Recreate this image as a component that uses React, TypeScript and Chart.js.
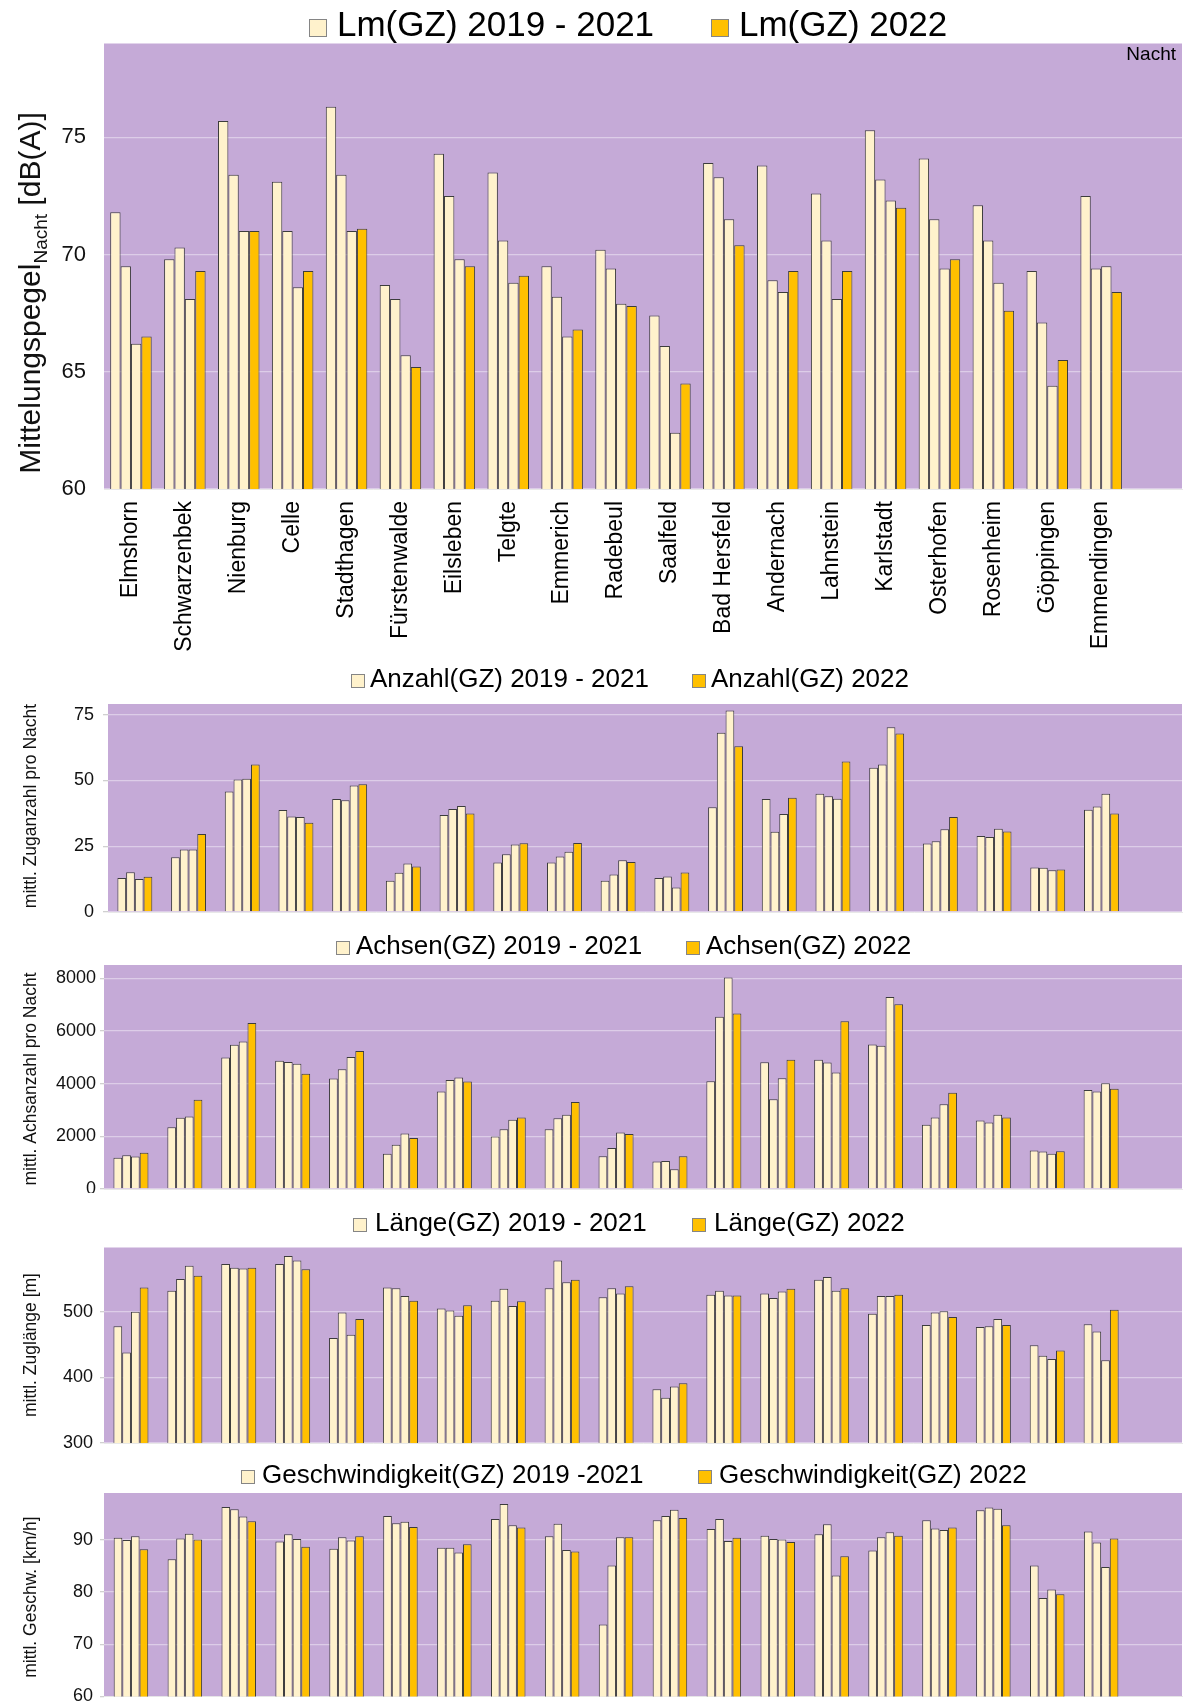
import React, { useEffect, useRef } from 'react';
import { Chart, registerables } from 'chart.js';

Chart.register(...registerables);

// ---------------- data ----------------
const STATIONS = ['Elmshorn', 'Schwarzenbek', 'Nienburg', 'Celle', 'Stadthagen', 'Fürstenwalde', 'Eilsleben', 'Telgte', 'Emmerich', 'Radebeul', 'Saalfeld', 'Bad Hersfeld', 'Andernach', 'Lahnstein', 'Karlstadt', 'Osterhofen', 'Rosenheim', 'Göppingen', 'Emmendingen'];
const CATEGORIES = [...STATIONS, ''];

const LM_2019 = [71.8, 69.8, 75.7, 73.1, 76.3, 68.7, 74.3, 73.5, 69.5, 70.2, 67.4, 73.9, 73.8, 72.6, 75.3, 74.1, 72.1, 69.3, 72.5];
const LM_2020 = [69.5, 70.3, 73.4, 71.0, 73.4, 68.1, 72.5, 70.6, 68.2, 69.4, 66.1, 73.3, 68.9, 70.6, 73.2, 71.5, 70.6, 67.1, 69.4];
const LM_2021 = [66.2, 68.1, 71.0, 68.6, 71.0, 65.7, 69.8, 68.8, 66.5, 67.9, 62.4, 71.5, 68.4, 68.1, 72.3, 69.4, 68.8, 64.4, 69.5];
const LM_2022 = [66.5, 69.3, 71.0, 69.3, 71.1, 65.2, 69.5, 69.1, 66.8, 67.8, 64.5, 70.4, 69.3, 69.3, 72.0, 69.8, 67.6, 65.5, 68.4];

const ANZ_2019 = [12.9, 20.8, 45.8, 38.7, 42.9, 11.9, 36.8, 18.8, 18.8, 11.9, 12.9, 39.8, 42.9, 44.9, 54.8, 26.0, 28.9, 16.9, 38.8];
const ANZ_2020 = [15.1, 23.7, 50.3, 36.3, 42.4, 14.9, 39.1, 21.9, 21.1, 14.2, 13.5, 68.1, 30.5, 44.0, 56.0, 26.9, 28.5, 16.8, 40.1];
const ANZ_2021 = [12.5, 23.7, 50.6, 36.1, 48.0, 18.4, 40.3, 25.6, 22.9, 19.7, 9.3, 76.5, 37.2, 43.0, 70.2, 31.4, 31.6, 15.9, 44.9];
const ANZ_2022 = [13.4, 29.6, 56.0, 33.9, 48.5, 17.3, 37.4, 26.1, 26.2, 19.0, 15.0, 63.0, 43.4, 57.2, 67.8, 36.1, 30.6, 16.1, 37.4];

const ACH_2019 = [1190, 2340, 4990, 4870, 4190, 1340, 3700, 1990, 2270, 1240, 1040, 4090, 4810, 4900, 5480, 2440, 2600, 1460, 3760];
const ACH_2020 = [1280, 2700, 5470, 4820, 4540, 1680, 4140, 2270, 2680, 1560, 1060, 6540, 3410, 4800, 5440, 2710, 2520, 1420, 3700];
const ACH_2021 = [1230, 2750, 5600, 4750, 5010, 2110, 4230, 2630, 2820, 2140, 750, 8030, 4200, 4420, 7290, 3220, 2820, 1340, 4010];
const ACH_2022 = [1380, 3390, 6300, 4370, 5240, 1940, 4080, 2710, 3300, 2090, 1240, 6660, 4900, 6370, 7010, 3650, 2710, 1430, 3800];

const LEN_2019 = [478, 532, 573, 573, 460, 537, 505, 517, 536, 522, 382, 526, 528, 549, 497, 480, 477, 449, 481];
const LEN_2020 = [438, 550, 567, 585, 499, 536, 502, 535, 578, 536, 369, 532, 521, 553, 524, 499, 478, 433, 470];
const LEN_2021 = [500, 570, 566, 578, 465, 524, 494, 509, 545, 528, 386, 525, 531, 532, 524, 501, 489, 428, 426];
const LEN_2022 = [537, 555, 567, 565, 489, 517, 510, 516, 549, 539, 391, 525, 535, 536, 526, 492, 480, 441, 503];

const GES_2019 = [90.4, 86.3, 96.3, 89.7, 88.3, 94.6, 88.5, 94.0, 90.7, 73.8, 93.8, 92.1, 90.8, 91.1, 88.0, 93.8, 95.7, 85.1, 91.6];
const GES_2020 = [90.0, 90.3, 95.9, 91.1, 90.5, 93.2, 88.5, 96.9, 93.1, 85.1, 94.6, 94.0, 90.2, 93.0, 90.5, 92.2, 96.2, 78.9, 89.5];
const GES_2021 = [90.7, 91.2, 94.5, 90.2, 89.9, 93.5, 87.6, 92.8, 88.1, 90.5, 95.8, 89.8, 90.1, 83.2, 91.5, 91.9, 96.0, 80.5, 84.8];
const GES_2022 = [88.2, 90.1, 93.6, 88.7, 90.7, 92.5, 89.2, 92.4, 87.8, 90.5, 94.2, 90.4, 89.6, 86.9, 90.8, 92.4, 92.8, 79.6, 90.3];

// tick values of each panel's value axis
const TICKS_LM = [60, 65, 70, 75];
const TICKS_ANZ = [0, 25, 50, 75];
const TICKS_ACH = [0, 2000, 4000, 6000, 8000];
const TICKS_LEN = [300, 400, 500];
const TICKS_GES = [60, 70, 80, 90];

// ---------------- styles ----------------
const FONT = '"Liberation Sans", Arial, Helvetica, sans-serif';
const CREAM = '#FFF2CC';
const ORANGE = '#FFC000';
const PLOT_BG = '#C5AAD7';
const GRID = 'rgba(255,255,255,0.42)';
const BAR_BORDER = '#3c3c3c';
const TEXT = '#111111';

type TitlePart = { text: string; size: number; dy: number };
type PanelSpec = {
  top: number;
  height: number;
  plotTop: number;
  plotBottom: number;
  plotLeft: number;
  series: number[][];
  min: number;
  max: number;
  ticks: number[];
  tickFont: number;
  tickPad: number;
  tickLen: number;
  catPct: number;
  showX: boolean;
  legend: { y: number; font: number; box: number; gap: number; items: { x: number; text: string; color: string }[] };
  title: { baseX: number; centerY: number; parts: TitlePart[] };
  note?: { text: string; x: number; y: number; size: number };
};

const PANELS: PanelSpec[] = [
  {
    top: 0, height: 660, plotTop: 43.5, plotBottom: 489, plotLeft: 104,
    series: [LM_2019, LM_2020, LM_2021, LM_2022], min: 60, max: 79, ticks: TICKS_LM,
    tickFont: 22, tickPad: 18, tickLen: 0, catPct: 0.77, showX: true,
    legend: { y: 26.5, font: 35, box: 18, gap: 10, items: [
      { x: 309, text: 'Lm(GZ) 2019 - 2021', color: CREAM },
      { x: 711, text: 'Lm(GZ) 2022', color: ORANGE },
    ] },
    title: { baseX: 40, centerY: 293, parts: [
      { text: 'Mittelungspegel', size: 30, dy: 0 },
      { text: 'Nacht', size: 19, dy: 7 },
      { text: ' [dB(A)]', size: 30, dy: 0 },
    ] },
    note: { text: 'Nacht', x: 1176, y: 55, size: 19 },
  },
  {
    top: 660, height: 257, plotTop: 704, plotBottom: 912, plotLeft: 108,
    series: [ANZ_2019, ANZ_2020, ANZ_2021, ANZ_2022], min: 0, max: 79, ticks: TICKS_ANZ,
    tickFont: 18, tickPad: 9, tickLen: 5, catPct: 0.65, showX: false,
    legend: { y: 680, font: 26, box: 14, gap: 5, items: [
      { x: 351, text: 'Anzahl(GZ) 2019 - 2021', color: CREAM },
      { x: 692, text: 'Anzahl(GZ) 2022', color: ORANGE },
    ] },
    title: { baseX: 36, centerY: 806, parts: [{ text: 'mittl. Zuganzahl pro Nacht', size: 17.5, dy: 0 }] },
  },
  {
    top: 917, height: 276, plotTop: 965, plotBottom: 1189, plotLeft: 104,
    series: [ACH_2019, ACH_2020, ACH_2021, ACH_2022], min: 0, max: 8500, ticks: TICKS_ACH,
    tickFont: 18, tickPad: 4, tickLen: 4, catPct: 0.65, showX: false,
    legend: { y: 947, font: 26, box: 14, gap: 6, items: [
      { x: 336, text: 'Achsen(GZ) 2019 - 2021', color: CREAM },
      { x: 686, text: 'Achsen(GZ) 2022', color: ORANGE },
    ] },
    title: { baseX: 36, centerY: 1079, parts: [{ text: 'mittl. Achsanzahl pro Nacht', size: 17.5, dy: 0 }] },
  },
  {
    top: 1193, height: 255, plotTop: 1247.5, plotBottom: 1443, plotLeft: 104,
    series: [LEN_2019, LEN_2020, LEN_2021, LEN_2022], min: 300, max: 598, ticks: TICKS_LEN,
    tickFont: 18, tickPad: 7, tickLen: 4, catPct: 0.65, showX: false,
    legend: { y: 1224, font: 26, box: 14, gap: 8, items: [
      { x: 353, text: 'Länge(GZ) 2019 - 2021', color: CREAM },
      { x: 692, text: 'Länge(GZ) 2022', color: ORANGE },
    ] },
    title: { baseX: 36, centerY: 1345, parts: [{ text: 'mittl. Zuglänge [m]', size: 17.5, dy: 0 }] },
  },
  {
    top: 1448, height: 256, plotTop: 1493, plotBottom: 1696.5, plotLeft: 104,
    series: [GES_2019, GES_2020, GES_2021, GES_2022], min: 60, max: 99, ticks: TICKS_GES,
    tickFont: 18, tickPad: 7, tickLen: 4, catPct: 0.64, showX: false,
    legend: { y: 1476, font: 26, box: 14, gap: 7, items: [
      { x: 241, text: 'Geschwindigkeit(GZ) 2019 -2021', color: CREAM },
      { x: 698, text: 'Geschwindigkeit(GZ) 2022', color: ORANGE },
    ] },
    title: { baseX: 36, centerY: 1597, parts: [{ text: 'mittl. Geschw. [km/h]', size: 17.5, dy: 0 }] },
  },
];

function makeDeco(p: PanelSpec) {
  return {
    id: 'panelDeco',
    beforeDraw(chart: any) {
      const { ctx, chartArea: a } = chart;
      ctx.save();
      ctx.fillStyle = PLOT_BG;
      ctx.fillRect(a.left, a.top, a.right - a.left, a.bottom - a.top);
      ctx.restore();
    },
    afterDraw(chart: any) {
      const { ctx } = chart;
      ctx.save();
      // legend
      const L = p.legend;
      const ly = L.y - p.top;
      ctx.font = `${L.font}px ${FONT}`;
      ctx.textBaseline = 'middle';
      ctx.textAlign = 'left';
      for (const it of L.items) {
        const by = Math.round(ly - L.box / 2 + 1);
        ctx.fillStyle = it.color;
        ctx.fillRect(it.x, by, L.box, L.box);
        ctx.strokeStyle = '#858585';
        ctx.lineWidth = 1;
        ctx.strokeRect(it.x + 0.5, by + 0.5, L.box - 1, L.box - 1);
        ctx.fillStyle = '#000';
        ctx.fillText(it.text, it.x + L.box + L.gap, ly);
      }
      // y-axis title (rotated, with optional subscript)
      const T = p.title;
      let total = 0;
      const widths: number[] = [];
      for (const part of T.parts) {
        ctx.font = `${part.size}px ${FONT}`;
        const w = ctx.measureText(part.text).width;
        widths.push(w);
        total += w;
      }
      ctx.translate(T.baseX, T.centerY - p.top);
      ctx.rotate(-Math.PI / 2);
      ctx.textBaseline = 'alphabetic';
      ctx.fillStyle = TEXT;
      let x = -total / 2;
      T.parts.forEach((part, i) => {
        ctx.font = `${part.size}px ${FONT}`;
        ctx.fillText(part.text, x, part.dy);
        x += widths[i];
      });
      ctx.setTransform(1, 0, 0, 1, 0, 0);
      if (p.note) {
        ctx.font = `${p.note.size}px ${FONT}`;
        ctx.textAlign = 'right';
        ctx.textBaseline = 'middle';
        ctx.fillStyle = '#000';
        ctx.fillText(p.note.text, p.note.x, p.note.y - p.top);
      }
      ctx.restore();
    },
  };
}

function withGap(arr: number[]): (number | null)[] {
  return [...arr, null];
}

function Panel({ spec }: { spec: PanelSpec }) {
  const ref = useRef<HTMLCanvasElement | null>(null);
  useEffect(() => {
    if (!ref.current) return;
    const colors = [CREAM, CREAM, CREAM, ORANGE];
    const years = ['2019', '2020', '2021', '2022'];
    const chart = new Chart(ref.current, {
      type: 'bar',
      data: {
        labels: CATEGORIES,
        datasets: spec.series.map((s, i) => ({
          label: years[i],
          data: withGap(s),
          backgroundColor: colors[i],
          borderColor: BAR_BORDER,
          borderWidth: 1,
          categoryPercentage: spec.catPct,
          barPercentage: 1.0,
        })),
      },
      options: {
        responsive: false,
        animation: false,
        devicePixelRatio: 1,
        layout: { padding: { top: spec.plotTop - spec.top, right: 2, left: 0, bottom: 0 } },
        plugins: { legend: { display: false }, tooltip: { enabled: false }, title: { display: false } },
        scales: {
          x: {
            grid: { display: false, drawTicks: false },
            border: { display: true, color: 'rgba(230,230,230,0.9)' },
            ticks: {
              display: spec.showX,
              autoSkip: false,
              maxRotation: 90,
              minRotation: 90,
              padding: 12,
              color: '#000',
              font: { family: FONT, size: 23 },
            },
            afterFit: (scale: any) => {
              scale.height = spec.top + spec.height - spec.plotBottom;
              scale.paddingLeft = 0;
              scale.paddingRight = 0;
            },
          },
          y: {
            min: spec.min,
            max: spec.max,
            grid: {
              color: GRID,
              lineWidth: 1.3,
              drawTicks: spec.tickLen > 0,
              tickLength: spec.tickLen,
              tickColor: '#d0d0d0',
            },
            border: { display: false },
            ticks: {
              padding: spec.tickPad,
              color: TEXT,
              font: { family: FONT, size: spec.tickFont },
              callback: (v: any) => String(v),
            },
            afterBuildTicks: (scale: any) => {
              scale.ticks = spec.ticks.map((v) => ({ value: v }));
            },
            afterFit: (scale: any) => {
              scale.width = spec.plotLeft;
              scale.paddingTop = 0;
              scale.paddingBottom = 0;
            },
          },
        },
      },
      plugins: [makeDeco(spec)],
    } as any);
    return () => chart.destroy();
  }, [spec]);
  return (
    <div style={{ position: 'absolute', left: 0, top: spec.top, width: 1184, height: spec.height }}>
      <canvas ref={ref} width={1184} height={spec.height} style={{ display: 'block', width: 1184, height: spec.height }} />
    </div>
  );
}

export default function App() {
  return (
    <div style={{ position: 'absolute', left: 0, top: 0, width: 1184, height: 1704, background: '#fff', overflow: 'hidden' }}>
      {PANELS.map((p, i) => (
        <Panel key={i} spec={p} />
      ))}
    </div>
  );
}
